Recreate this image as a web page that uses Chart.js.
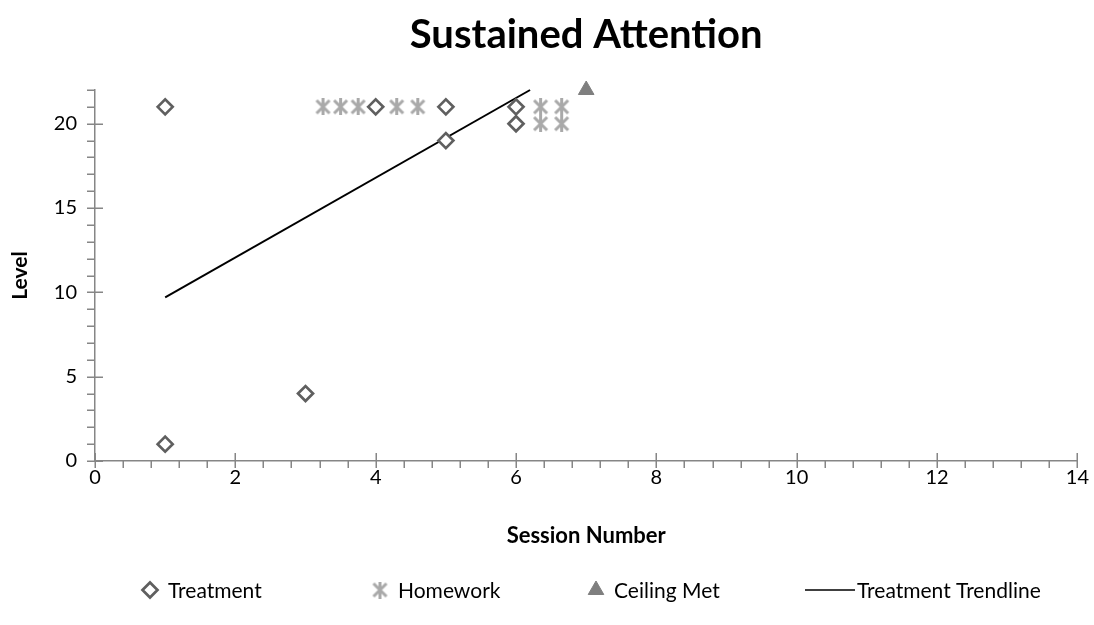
<!DOCTYPE html>
<html><head><meta charset="utf-8">
<script src="https://cdn.jsdelivr.net/npm/chart.js@4"></script>
<style>html,body{margin:0;padding:0;background:#fff}</style>
</head><body>
<canvas id="c" width="1094" height="625" style="width:1094px;height:625px;display:block"></canvas>
<script>
// ---- data ----
const treatmentX = [1, 1, 3, 4, 5, 5, 6, 6];
const treatmentY = [21, 1, 4, 21, 21, 19, 21, 20];
const homeworkX = [3.25, 3.5, 3.75, 4.3, 4.6, 6.35, 6.35, 6.65, 6.65];
const homeworkY = [21, 21, 21, 21, 21, 21, 20, 21, 20];
const ceilingX = [7];
const ceilingY = [22];
const trendX = [1, 6.2];
const trendY = [9.7, 22];
const xTickValues = [0, 2, 4, 6, 8, 10, 12, 14];
const yTickValues = [0, 5, 10, 15, 20];
const xMinorStep = 0.4;
const yMinorStep = 1;
const seriesNames = ['Treatment', 'Homework', 'Ceiling Met', 'Treatment Trendline'];
const chartTitle = 'Sustained Attention';
const xTitle = 'Session Number';
const yTitle = 'Level';

const FONT = 'Lato';
const AXIS_COLOR = '#868686';
const TREAT_COLOR = '#5f5f5f';
const HW_COLOR = '#a9a9a9';
const CEIL_COLOR = '#7f7f7f';

function pts(xs, ys) { return xs.map((x, i) => ({x: x, y: ys[i]})); }

// asterisk marker (X with a vertical bar) as an image point style
function makeAsterisk(size, color, lw) {
  const c = document.createElement('canvas');
  c.width = size; c.height = size;
  const g = c.getContext('2d');
  g.strokeStyle = color; g.lineWidth = lw; g.lineCap = 'butt';
  const p = lw / 2 + 0.5, q = size - p;
  g.beginPath();
  g.moveTo(p, p); g.lineTo(q, q);
  g.moveTo(q, p); g.lineTo(p, q);
  g.moveTo(size / 2, 0); g.lineTo(size / 2, size);
  g.stroke();
  return c;
}
const asterisk = makeAsterisk(17, HW_COLOR, 3);

// tick marks (major cross, minor outside) drawn via the scales
const tickPlugin = {
  id: 'tickMarks',
  afterDatasetsDraw(chart) {
    const ctx = chart.ctx, xs = chart.scales.x, ys = chart.scales.y;
    const ca = chart.chartArea;
    ctx.save();
    ctx.strokeStyle = AXIS_COLOR; ctx.lineWidth = 1.5;
    ctx.beginPath();
    for (let v = xs.min; v <= xs.max + 1e-9; v += xMinorStep) {
      const px = Math.round(xs.getPixelForValue(v)) + 0.25;
      const major = xTickValues.some(t => Math.abs(t - v) < 1e-6);
      ctx.moveTo(px, major ? ca.bottom - 8 : ca.bottom);
      ctx.lineTo(px, ca.bottom + 7);
    }
    for (let v = ys.min; v <= ys.max + 1e-9; v += yMinorStep) {
      const py = Math.round(ys.getPixelForValue(v)) + 0.25;
      const major = yTickValues.some(t => Math.abs(t - v) < 1e-6);
      ctx.moveTo(ca.left - 8, py);
      ctx.lineTo(major ? ca.left + 8 : ca.left, py);
    }
    ctx.stroke();
    ctx.restore();
  }
};

// legend drawn below the chart with the same point styles
const legendMarkerCenters = [150, 380, 596];
const legendLineStart = 805, legendLineLen = 50, legendY = 590;
const legendPlugin = {
  id: 'customLegend',
  afterDraw(chart) {
    const ctx = chart.ctx;
    ctx.save();
    ctx.font = '21px ' + FONT;
    ctx.textBaseline = 'middle';
    chart.data.datasets.forEach((ds, i) => {
      if (i === 3) {
        ctx.strokeStyle = '#000'; ctx.lineWidth = 1.5;
        ctx.beginPath();
        ctx.moveTo(legendLineStart, legendY); ctx.lineTo(legendLineStart + legendLineLen, legendY);
        ctx.stroke();
        ctx.fillStyle = '#000';
        ctx.fillText(seriesNames[i], legendLineStart + legendLineLen + 2, legendY + 1);
      } else {
        const cx = legendMarkerCenters[i];
        ctx.fillStyle = ds.backgroundColor; ctx.strokeStyle = ds.borderColor;
        ctx.lineWidth = ds.borderWidth;
        Chart.helpers.drawPoint(ctx, {
          pointStyle: ds.pointStyle, radius: ds.pointRadius, rotation: 0,
          borderWidth: ds.borderWidth
        }, cx, legendY);
        ctx.fillStyle = '#000';
        ctx.fillText(seriesNames[i], cx + 18, legendY + 1);
      }
    });
    ctx.restore();
  }
};

const ctx = document.getElementById('c').getContext('2d');

new Chart(ctx, {
  type: 'scatter',
  data: {
    datasets: [
      {label: seriesNames[0], data: pts(treatmentX, treatmentY), pointStyle: 'rectRot',
       pointRadius: 7.5, pointHoverRadius: 7.5, borderWidth: 2.7, borderColor: TREAT_COLOR,
       backgroundColor: '#ffffff', clip: false},
      {label: seriesNames[1], data: pts(homeworkX, homeworkY), pointStyle: asterisk,
       pointRadius: 8, borderWidth: 0, borderColor: HW_COLOR, backgroundColor: HW_COLOR, clip: false},
      {label: seriesNames[2], data: pts(ceilingX, ceilingY), pointStyle: 'triangle',
       pointRadius: 9, borderWidth: 1, borderColor: CEIL_COLOR, backgroundColor: CEIL_COLOR, clip: false},
      {label: seriesNames[3], type: 'line', data: pts(trendX, trendY), showLine: true,
       borderColor: '#000', borderWidth: 2, pointRadius: 0, pointStyle: 'line', fill: false, clip: false}
    ]
  },
  options: {
    responsive: false,
    animation: false,
    devicePixelRatio: 1,
    layout: {padding: {left: 0, right: 16, top: 0, bottom: 76}},
    plugins: {
      legend: {display: false},
      tooltip: {enabled: false},
      title: {
        display: true, text: chartTitle, color: '#000', fullSize: false,
        font: {family: FONT, size: 40, weight: 'bold'},
        padding: {top: 11, bottom: 31}
      }
    },
    scales: {
      x: {
        type: 'linear', min: 0, max: 14,
        grid: {display: false, drawTicks: false},
        border: {display: true, color: AXIS_COLOR, width: 1.5},
        ticks: {stepSize: 2, includeBounds: false, padding: 5, color: '#000', maxRotation: 0,
                font: {family: FONT, size: 20}},
        title: {display: true, text: xTitle, color: '#000', padding: {top: 0, bottom: 0},
                font: {family: FONT, size: 22, weight: 'bold'}},
        afterFit(s) { s.height = 88; }
      },
      y: {
        type: 'linear', min: 0, max: 22,
        grid: {display: false, drawTicks: false},
        border: {display: true, color: AXIS_COLOR, width: 1.5},
        ticks: {stepSize: 5, includeBounds: false, padding: 18, color: '#000',
                font: {family: FONT, size: 20}},
        title: {display: true, text: yTitle, color: '#000', padding: {top: 8, bottom: 0},
                font: {family: FONT, size: 21, weight: 'bold'}},
        afterFit(s) { s.width = 95; }
      }
    }
  },
  plugins: [tickPlugin, legendPlugin]
});
</script>
</body></html>
